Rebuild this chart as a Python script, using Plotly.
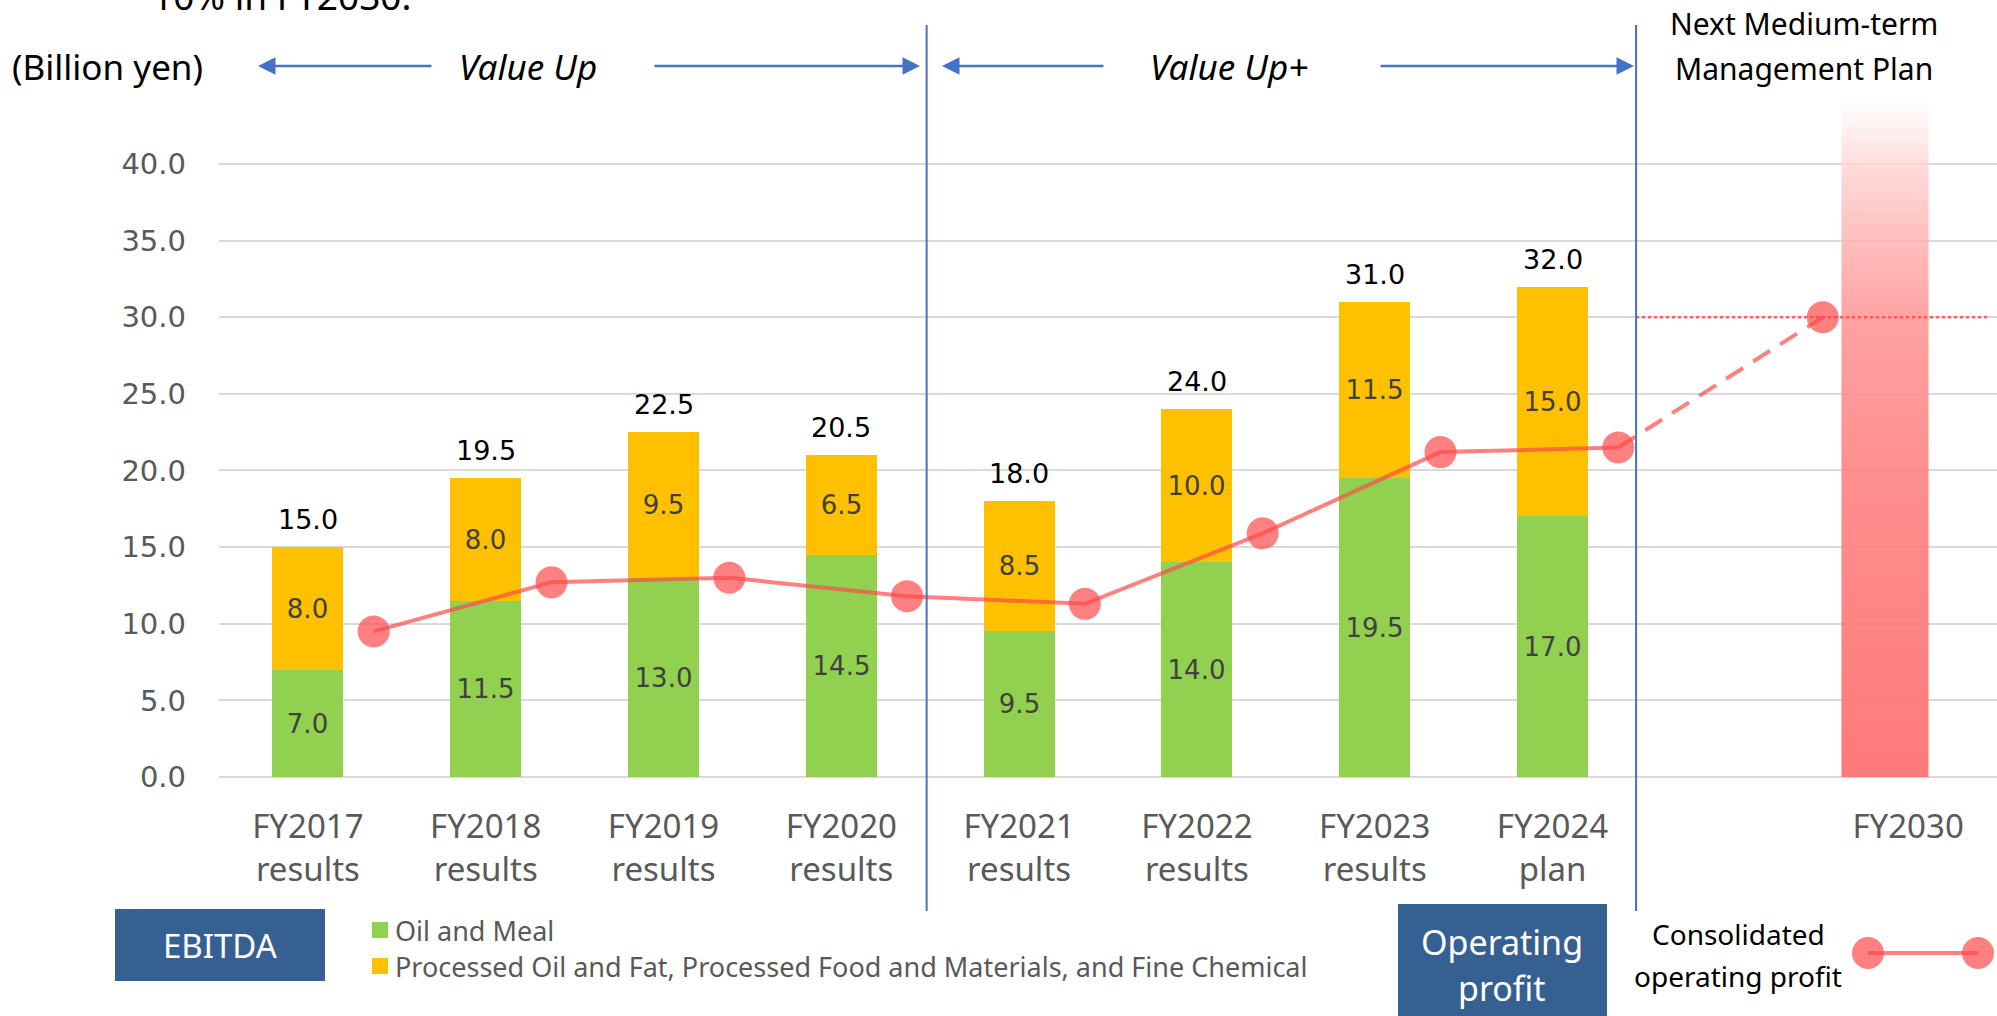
import plotly.graph_objects as go

# ---------------- data ----------------
categories = ["FY2017", "FY2018", "FY2019", "FY2020", "FY2021", "FY2022", "FY2023", "FY2024", "FY2030"]
cat_sub = ["results", "results", "results", "results", "results", "results", "results", "plan", ""]
oil_meal = [7.0, 11.5, 13.0, 14.5, 9.5, 14.0, 19.5, 17.0]
processed = [8.0, 8.0, 9.5, 6.5, 8.5, 10.0, 11.5, 15.0]
total_labels = [15.0, 19.5, 22.5, 20.5, 18.0, 24.0, 31.0, 32.0]
op_profit = [9.5, 12.7, 13.0, 11.8, 11.3, 15.9, 21.2, 21.5]
op_target_2030 = 30.0
target_bar_top = 44.0
y_ticks = [0, 5, 10, 15, 20, 25, 30, 35, 40]

# ---------------- layout geometry (pixels) ----------------
W, H = 1997, 1016
L, R, T, B = 219, 1997, 95, 777
YMAX = 44.5
XMIN, XMAX = -0.5, 9.5

def px_x(px):
    return (px - L) / (R - L)

def px_y(py):
    return (B - py) / (B - T)

bar_pos = list(range(len(oil_meal)))
tick_pos = bar_pos + [9]
line_offset = 0.37
op_x = [p + line_offset for p in bar_pos]
op_x_2030 = 8.52
target_bar_center, target_bar_width = 8.87, 0.49

GREEN = "#92D050"
ORANGE = "#FFC000"
LINE_C = "rgba(255,74,74,0.7)"
BLUE = "#4472C4"
BOX = "#376092"
NUMF = "DejaVu Sans"
TXTF = "Noto Sans"

fig = go.Figure()

# gradient target bar for FY2030
x0 = target_bar_center - target_bar_width / 2
x1 = target_bar_center + target_bar_width / 2
fig.add_trace(go.Scatter(
    x=[x0, x1, x1, x0, x0], y=[0, 0, target_bar_top, target_bar_top, 0],
    mode="lines", line=dict(width=0), fill="toself",
    fillgradient=dict(type="vertical", colorscale=[
        [0.0, "rgba(255,110,110,0.92)"],
        [0.45, "rgba(255,130,130,0.9)"],
        [0.68, "rgba(255,150,150,0.88)"],
        [0.82, "rgba(255,185,185,0.85)"],
        [0.91, "rgba(255,212,212,0.8)"],
        [1.0, "rgba(255,250,250,0.6)"],
    ]),
    hoverinfo="skip", showlegend=False,
))

# stacked bars
for vals, col in [(oil_meal, GREEN), (processed, ORANGE)]:
    fig.add_trace(go.Bar(
        x=bar_pos, y=vals, width=0.4, marker=dict(color=col, line=dict(width=0)),
        text=[f"{v:.1f}" for v in vals], textposition="inside", insidetextanchor="middle",
        textangle=0, constraintext="none",
        insidetextfont=dict(family=NUMF, size=26, color="#404040"), showlegend=False,
    ))

# operating profit line (solid)
fig.add_trace(go.Scatter(
    x=op_x, y=op_profit, mode="lines+markers",
    line=dict(color=LINE_C, width=4),
    marker=dict(size=32, color=LINE_C, line=dict(width=0)),
    showlegend=False,
))
# dashed projection to FY2030
fig.add_trace(go.Scatter(
    x=[op_x[-1], op_x_2030], y=[op_profit[-1], op_target_2030], mode="lines",
    line=dict(color=LINE_C, width=4, dash="20px,12px"), showlegend=False,
))
fig.add_trace(go.Scatter(
    x=[op_x_2030], y=[op_target_2030], mode="markers",
    marker=dict(size=32, color=LINE_C, line=dict(width=0)), showlegend=False,
))

shapes = []
annotations = []

def txt(xpx, ypx, text, size, color="#000000", xanchor="center", family=TXTF):
    annotations.append(dict(x=px_x(xpx), y=px_y(ypx), xref="paper", yref="paper", text=text,
                            xanchor=xanchor, yanchor="middle", showarrow=False,
                            font=dict(family=family, size=size, color=color)))

# totals above stacks
stack_tops = [a + b for a, b in zip(oil_meal, processed)]
for xp, top, lab in zip(bar_pos, stack_tops, total_labels):
    annotations.append(dict(x=xp, y=top, xref="x", yref="y", text=f"{lab:.1f}", showarrow=False,
                            xanchor="center", yanchor="bottom", yshift=10,
                            font=dict(family=NUMF, size=27, color="#000000")))

# dotted target line
shapes.append(dict(type="line", xref="x", yref="y", x0=7.47, x1=9.45, y0=op_target_2030, y1=op_target_2030,
                   line=dict(color="rgba(255,70,70,0.85)", width=2.5, dash="dot"), layer="above"))

# vertical separators
for sx in [3.48, 7.47]:
    shapes.append(dict(type="line", xref="x", yref="paper", x0=sx, x1=sx, y0=px_y(911), y1=px_y(25),
                       line=dict(color=BLUE, width=2), layer="above"))

# period arrows
arrow_y = px_y(66)
for head_px, tail_px in [(258, 433), (920, 653), (942, 1105), (1634, 1379)]:
    annotations.append(dict(
        x=px_x(head_px), y=arrow_y, xref="paper", yref="paper",
        ax=tail_px - head_px, ay=0, axref="pixel", ayref="pixel",
        text="", showarrow=True, arrowhead=2, arrowsize=1.4, arrowwidth=2.5, arrowcolor=BLUE,
    ))
txt(528, 66, "<i>Value Up</i>", 35)
txt(1229, 66, "<i>Value Up+</i>", 35)
txt(10, 66, "(Billion yen)", 35, xanchor="left")
txt(150, -4, "10% in FY2030.", 37, xanchor="left")
txt(1804, 23, "Next Medium-term", 30)
txt(1804, 68, "Management Plan", 30)

# bottom legend: EBITDA
shapes.append(dict(type="rect", xref="paper", yref="paper", x0=px_x(115), x1=px_x(325), y0=px_y(981), y1=px_y(909),
                   fillcolor=BOX, line=dict(width=0), layer="above"))
txt(220, 945, "EBITDA", 33, color="#FFFFFF")
for color, label, cy in [(GREEN, "Oil and Meal", 930),
                         (ORANGE, "Processed Oil and Fat, Processed Food and Materials, and Fine Chemical", 966)]:
    shapes.append(dict(type="rect", xref="paper", yref="paper", x0=px_x(372), x1=px_x(388),
                       y0=px_y(cy + 8), y1=px_y(cy - 8), fillcolor=color, line=dict(width=0), layer="above"))
    txt(393, cy, label, 27, color="#595959", xanchor="left")

# bottom legend: Operating profit
shapes.append(dict(type="rect", xref="paper", yref="paper", x0=px_x(1398), x1=px_x(1607), y0=px_y(1020), y1=px_y(904),
                   fillcolor=BOX, line=dict(width=0), layer="above"))
txt(1502, 942, "Operating", 34, color="#FFFFFF")
txt(1502, 988, "profit", 34, color="#FFFFFF")
txt(1738, 934, "Consolidated", 28)
txt(1738, 976, "operating profit", 28)
shapes.append(dict(type="line", xref="paper", yref="paper", x0=px_x(1868), x1=px_x(1978), y0=px_y(953), y1=px_y(953),
                   line=dict(color=LINE_C, width=4), layer="above"))
for cx in [1868, 1978]:
    shapes.append(dict(type="circle", xref="paper", yref="paper", x0=px_x(cx - 16), x1=px_x(cx + 16),
                       y0=px_y(953 + 16), y1=px_y(953 - 16), fillcolor=LINE_C, line=dict(width=0), layer="above"))

fig.update_layout(
    width=W, height=H,
    margin=dict(l=L, r=W - R, t=T, b=H - B, pad=0),
    paper_bgcolor="white", plot_bgcolor="white",
    barmode="stack", bargap=0,
    showlegend=False,
    shapes=shapes, annotations=annotations,
    xaxis=dict(range=[XMIN, XMAX], tickvals=tick_pos,
               ticktext=[f"{c}<br>{s}" if s else c for c, s in zip(categories, cat_sub)],
               showgrid=False, zeroline=False, showline=False, ticks="",
               tickfont=dict(family=TXTF, size=33, color="#595959"), ticklabelstandoff=27,
               fixedrange=True),
    yaxis=dict(range=[0, YMAX], tickvals=y_ticks, tickformat=".1f",
               showgrid=True, gridcolor="#D9D9D9", gridwidth=2,
               zeroline=True, zerolinecolor="#D9D9D9", zerolinewidth=2, showline=False, ticks="",
               tickfont=dict(family=NUMF, size=29, color="#595959"), ticklabelstandoff=32,
               fixedrange=True),
)

fig.write_html("out.html", config={"displayModeBar": False},
               post_script="document.body.style.margin='0';document.body.style.overflow='hidden';")
